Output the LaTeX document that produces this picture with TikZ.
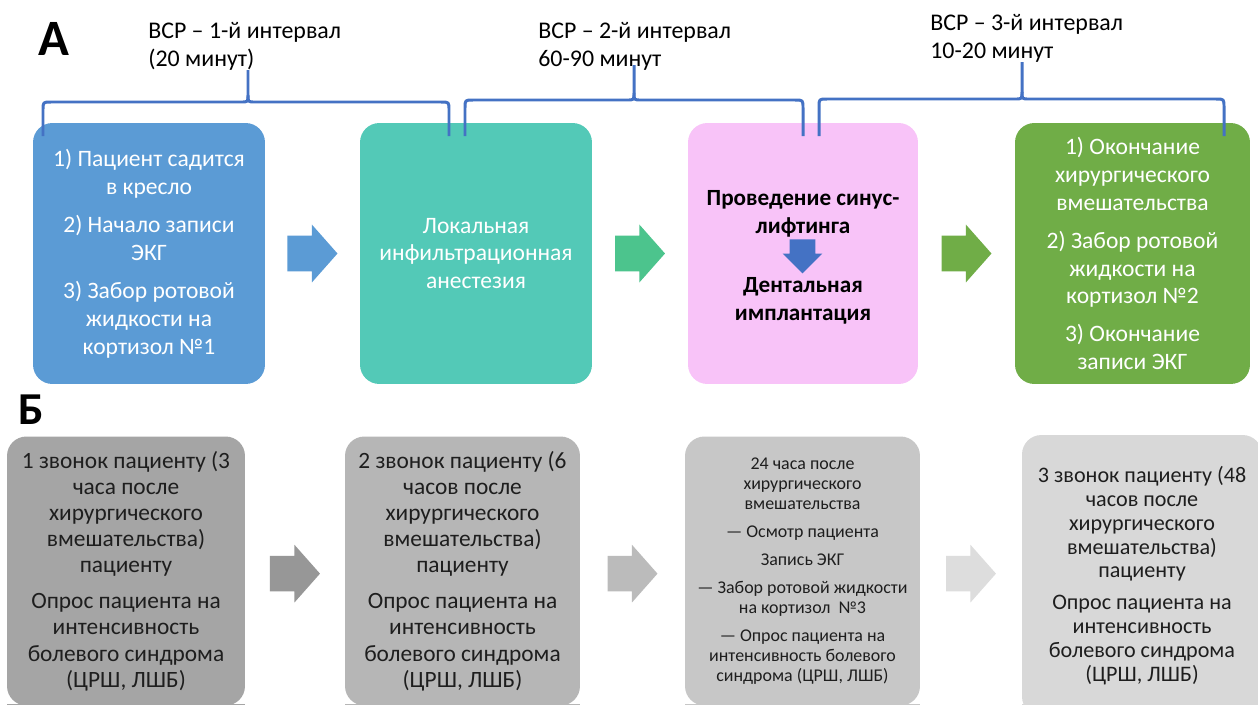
\documentclass[tikz,border=0pt]{standalone}
\usepackage{fontspec}
\setmainfont{Carlito}
\usetikzlibrary{shapes.arrows, calc, backgrounds}
\definecolor{boxblue}{HTML}{5B9BD5}
\definecolor{boxteal}{HTML}{53C9B7}
\definecolor{arrowteal}{HTML}{4CC48D}
\definecolor{boxpink}{HTML}{F8C3F8}
\definecolor{boxgreen}{HTML}{70AD47}
\definecolor{bracecol}{HTML}{4472C4}
\definecolor{callgrayA}{HTML}{A5A5A5}
\definecolor{callgrayB}{HTML}{B6B6B6}
\definecolor{callgrayC}{HTML}{C7C7C7}
\definecolor{callgrayD}{HTML}{D8D8D8}
\definecolor{arrgrayA}{HTML}{979797}
\definecolor{arrgrayB}{HTML}{BBBBBB}
\definecolor{arrgrayC}{HTML}{DDDDDD}
\definecolor{calltext}{HTML}{1E1E1E}
\tikzset{stagebox/.style={rounded corners=11pt, inner sep=0pt, align=center,
    minimum width=4.64cm, minimum height=5.22cm, text=white,
    font=\fontsize{13.4}{15.9}\selectfont},
  callbox/.style={rounded corners=11pt, inner sep=0pt, align=center,
    minimum width=4.7cm, minimum height=5.38cm, text=calltext,
    font=\fontsize{13.3}{14.9}\selectfont},
  blockarrow/.style={single arrow, inner xsep=0pt, inner ysep=0.35cm,
    minimum height=1cm, single arrow head extend=0.22cm,
    single arrow tip angle=97, xshift=-4.5pt},
  downarrow/.style={single arrow, rotate=270, inner xsep=0pt,
    inner ysep=0.25cm, fill=bracecol, minimum height=0.68cm,
    single arrow head extend=0.14cm},
  liftext/.style={align=center, inner sep=0pt,
    font=\bfseries\fontsize{13.2}{15.9}\selectfont},
  stagelabel/.style={anchor=west, align=left, inner sep=0pt,
    font=\fontsize{13.6}{15.9}\selectfont},
  panel/.style={inner sep=0pt, font=\bfseries\fontsize{29}{30}\selectfont},
  intbrace/.style={draw=bracecol, line width=1.7pt, line join=round}}
% curly brace over an interval: left x, right x, tip x, level y, tip top y
\newcommand\spanbrace[5]{%
  \draw[intbrace] (#1,136) -- (#1,#4+8) .. controls (#1,#4) .. (#1+8,#4)
    -- (#3-7,#4) .. controls (#3,#4) .. (#3,#4-7) -- (#3,#5);
  \draw[intbrace] (#3,#4-7) .. controls (#3,#4) .. (#3+7,#4)
    -- (#2-8,#4) .. controls (#2,#4) .. (#2,#4+8) -- (#2,136);}
\begin{document}
\begin{tikzpicture}[x=0.02cm, y=-0.02cm]
  \useasboundingbox (0,0) rectangle (1258,704);
  \clip (0,0) rectangle (1258,704);
  \fill[white] (0,0) rectangle (1258,704);

  % part A
  \node[panel] (pa) at (54,38.5) {А};
  \node[stagelabel] (t1) at (148,46) {ВСР – 1-й интервал\\(20 минут)};
  \node[stagelabel] (t2) at (538,46) {ВСР – 2-й интервал\\60-90 минут};
  \node[stagelabel] (t3) at (930,38) {ВСР – 3-й интервал\\10-20 минут};

  \node[stagebox, fill=boxblue] (a1) at (149,253.5)
    {1) Пациент садится\\в кресло\\[5.7pt]2) Начало записи\\ЭКГ\\[5.7pt]3) Забор ротовой\\жидкости на\\кортизол №1};
  \node[stagebox, fill=boxteal] (a2) at (476,253.5)
    {Локальная\\инфильтрационная\\анестезия};
  \node[stagebox, fill=boxpink, minimum width=4.6cm] (a3) at (803,253.5) {};
  \node[stagebox, fill=boxgreen, minimum width=4.7cm] (a4) at (1132.5,253.5)
    {1) Окончание\\хирургического\\вмешательства\\[5.7pt]2) Забор ротовой\\жидкости на\\кортизол №2\\[5.7pt]3) Окончание\\записи ЭКГ};

  \node[liftext] (lift) at (803,214) {Проведение синус-\\лифтинга};
  \node[downarrow] (down) at (802.5,250) {};
  \node[liftext] (impl) at (803,301) {Дентальная\\имплантация};

  \node[blockarrow, fill=boxblue] (a12) at ($(a1.east)!0.5!(a2.west)$) {};
  \node[blockarrow, fill=arrowteal] (a23) at ($(a2.east)!0.5!(a3.west)$) {};
  \node[blockarrow, fill=boxgreen] (a34) at ($(a3.east)!0.5!(a4.west)$) {};

  \spanbrace{43}{449}{248}{102}{70}
  \spanbrace{465}{803}{634}{100}{65}
  \spanbrace{819}{1224}{1022}{99}{62}

  % part B
  \node[panel, font=\bfseries\fontsize{26}{28}\selectfont] (pb) at (31.5,410) {Б};

  \node[callbox, fill=callgrayA, minimum width=4.76cm] (b1) at (126,571)
    {1 звонок пациенту (3\\часа после\\хирургического\\вмешательства)\\пациенту\\[5.5pt]Опрос пациента на\\интенсивность\\болевого синдрома\\(ЦРШ, ЛШБ)};
  \node[callbox, fill=callgrayB] (b2) at (462.5,571)
    {2 звонок пациенту (6\\часов после\\хирургического\\вмешательства)\\пациенту\\[5.5pt]Опрос пациента на\\интенсивность\\болевого синдрома\\(ЦРШ, ЛШБ)};
  \node[callbox, fill=callgrayC, font=\fontsize{10.2}{11.4}\selectfont] (b3) at (802.5,571)
    {24 часа после\\хирургического\\вмешательства\\[4.5pt]— Осмотр пациента\\[4.5pt]Запись ЭКГ\\[4.5pt]— Забор ротовой жидкости\\на кортизол\ \ №3\\[4.5pt]— Опрос пациента на\\интенсивность болевого\\синдрома (ЦРШ, ЛШБ)};
  \node[callbox, fill=callgrayD, minimum width=4.8cm, minimum height=5.62cm,
    font=\fontsize{12.6}{13.6}\selectfont] (b4) at (1142,575.5)
    {3 звонок пациенту (48\\часов после\\хирургического\\вмешательства)\\пациенту\\[4.5pt]Опрос пациента на\\интенсивность\\болевого синдрома\\(ЦРШ, ЛШБ)};

  \node[blockarrow, fill=arrgrayA, yshift=-1.5pt] (b12) at ($(b1.east)!0.5!(b2.west)$) {};
  \node[blockarrow, fill=arrgrayB, yshift=-1.5pt] (b23) at ($(b2.east)!0.5!(b3.west)$) {};
  \node[blockarrow, fill=arrgrayC, yshift=-1.5pt] (b34) at ($(b3.east)!0.5!(b4.west |- b3.east)$) {};

  % flat bottoms where the boxes are cut off
  \begin{scope}[on background layer]
    \foreach \n/\c in {a1/boxblue, a2/boxteal, a3/boxpink, a4/boxgreen,
                       b1/callgrayA, b2/callgrayB, b3/callgrayC, b4/callgrayD}
      \fill[\c] ([yshift=12pt]\n.south west) rectangle (\n.south east);
  \end{scope}
\end{tikzpicture}
\end{document}
